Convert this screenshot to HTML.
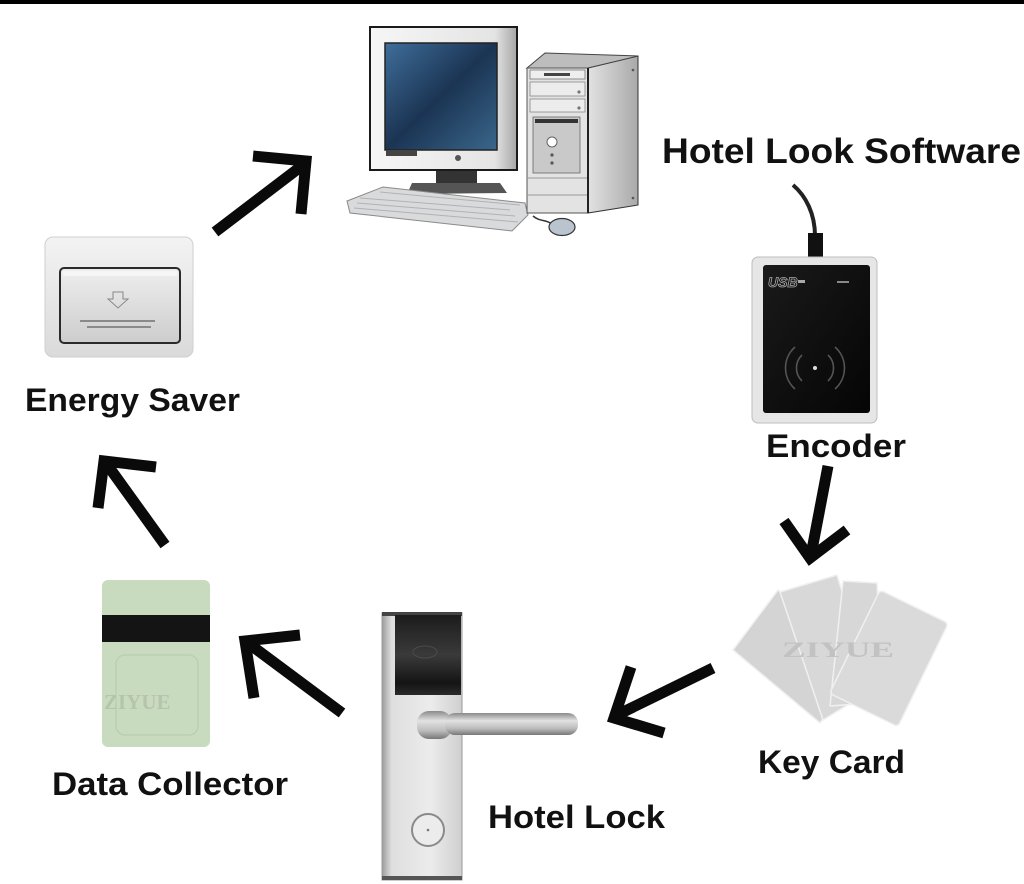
<!DOCTYPE html>
<html>
<head>
<meta charset="utf-8">
<style>
  html,body{margin:0;padding:0;background:#fff;}
  body{width:1024px;height:884px;overflow:hidden;}
  svg{display:block;}
  .lbl{font-family:"Liberation Sans",Arial,sans-serif;font-weight:bold;fill:#111;}
</style>
</head>
<body>
<svg width="1024" height="884" viewBox="0 0 1024 884" xmlns="http://www.w3.org/2000/svg">
  <defs>
    <linearGradient id="scr" x1="0" y1="0" x2="1" y2="1">
      <stop offset="0" stop-color="#3f6e9a"/>
      <stop offset="0.5" stop-color="#1b3453"/>
      <stop offset="1" stop-color="#3a678c"/>
    </linearGradient>
    <linearGradient id="bez" x1="0" y1="0" x2="1" y2="0">
      <stop offset="0" stop-color="#f6f6f6"/>
      <stop offset="0.85" stop-color="#e4e4e4"/>
      <stop offset="1" stop-color="#a6a6a6"/>
    </linearGradient>
    <linearGradient id="side" x1="0" y1="0" x2="1" y2="0">
      <stop offset="0" stop-color="#e2e2e2"/>
      <stop offset="1" stop-color="#a9a9a9"/>
    </linearGradient>
    <linearGradient id="plate" x1="0" y1="0" x2="0" y2="1">
      <stop offset="0" stop-color="#f3f3f3"/>
      <stop offset="1" stop-color="#dadada"/>
    </linearGradient>
    <linearGradient id="btn" x1="0" y1="0" x2="0" y2="1">
      <stop offset="0" stop-color="#eeeeee"/>
      <stop offset="1" stop-color="#cdcdcd"/>
    </linearGradient>
    <linearGradient id="lockg" x1="0" y1="0" x2="1" y2="0">
      <stop offset="0" stop-color="#9c9c9c"/>
      <stop offset="0.12" stop-color="#dedede"/>
      <stop offset="0.6" stop-color="#ececec"/>
      <stop offset="1" stop-color="#cfcfcf"/>
    </linearGradient>
    <linearGradient id="lockd" x1="0" y1="0" x2="0" y2="1">
      <stop offset="0" stop-color="#1c1c1c"/>
      <stop offset="0.5" stop-color="#3a3a3a"/>
      <stop offset="0.85" stop-color="#141414"/>
      <stop offset="1" stop-color="#2a2a2a"/>
    </linearGradient>
    <linearGradient id="bar" x1="0" y1="0" x2="0" y2="1">
      <stop offset="0" stop-color="#8a8a8a"/>
      <stop offset="0.35" stop-color="#e2e2e2"/>
      <stop offset="0.7" stop-color="#bdbdbd"/>
      <stop offset="1" stop-color="#777"/>
    </linearGradient>
    <linearGradient id="enc" x1="0" y1="0" x2="1" y2="1">
      <stop offset="0" stop-color="#1a1a1a"/>
      <stop offset="1" stop-color="#050505"/>
    </linearGradient>
  </defs>

  <!-- top black bar -->
  <rect x="0" y="0" width="1024" height="4" fill="#000"/>

  <!-- ================= COMPUTER ================= -->
  <rect x="436" y="168" width="41" height="18" fill="#333"/>
  <polygon points="412,183 500,183 507,193 407,194" fill="#555"/>
  <rect x="370" y="27" width="147" height="143" fill="url(#bez)" stroke="#1a1a1a" stroke-width="2"/>
  <rect x="385" y="43" width="112" height="107" fill="url(#scr)" stroke="#222" stroke-width="1.5"/>
  <rect x="386" y="150" width="31" height="6" fill="#444"/>
  <circle cx="458" cy="158" r="3" fill="#555"/>
  <polygon points="347,201 383,187 525,203 528,215 512,231 350,213" fill="#d9dadc" stroke="#8a8a8a" stroke-width="1"/>
  <g stroke="#b0b2b5" stroke-width="1">
    <line x1="360" y1="198" x2="510" y2="210"/>
    <line x1="357" y1="203" x2="515" y2="216"/>
    <line x1="354" y1="208" x2="518" y2="222"/>
    <line x1="380" y1="192" x2="520" y2="205"/>
  </g>
  <polygon points="588,68 638,56 638,205 588,213" fill="url(#side)" stroke="#333" stroke-width="1"/>
  <polygon points="527,68 545,53 638,56 588,68" fill="#bdbdbd" stroke="#444" stroke-width="1"/>
  <rect x="527" y="68" width="61" height="145" fill="#e3e3e3" stroke="#555" stroke-width="1"/>
  <rect x="530" y="70" width="55" height="9" fill="#efefef" stroke="#777" stroke-width="0.8"/>
  <rect x="544" y="73" width="26" height="3" fill="#444"/>
  <rect x="530" y="82" width="55" height="14" fill="#ececec" stroke="#888" stroke-width="0.8"/>
  <circle cx="579" cy="92" r="1.6" fill="#777"/>
  <rect x="530" y="99" width="55" height="13" fill="#ececec" stroke="#888" stroke-width="0.8"/>
  <circle cx="579" cy="108" r="1.6" fill="#777"/>
  <rect x="533" y="117" width="47" height="56" fill="#c9c9c9" stroke="#666" stroke-width="0.8"/>
  <rect x="535" y="119" width="43" height="4" fill="#333"/>
  <circle cx="552" cy="142" r="5" fill="#fff" stroke="#666" stroke-width="1"/>
  <circle cx="552" cy="155" r="1.6" fill="#555"/>
  <circle cx="552" cy="163" r="1.6" fill="#555"/>
  <line x1="527" y1="178" x2="588" y2="178" stroke="#999" stroke-width="1"/>
  <line x1="527" y1="195" x2="588" y2="195" stroke="#999" stroke-width="1"/>
  <line x1="588" y1="68" x2="588" y2="213" stroke="#222" stroke-width="2"/>
  <circle cx="633" cy="70" r="1.3" fill="#555"/>
  <circle cx="633" cy="198" r="1.3" fill="#555"/>
  <path d="M533,216 C540,222 545,219 552,224" fill="none" stroke="#333" stroke-width="1.5"/>
  <ellipse cx="562" cy="227" rx="13" ry="8.5" fill="#b9c4cf" stroke="#333" stroke-width="1.2"/>

  <!-- ================= ENCODER ================= -->
  <path d="M793,185 C806,196 815,214 815,236" fill="none" stroke="#222" stroke-width="4"/>
  <rect x="808" y="233" width="15" height="25" fill="#111"/>
  <rect x="752" y="257" width="125" height="166" rx="6" fill="#e6e6e6" stroke="#bdbdbd" stroke-width="1"/>
  <rect x="763" y="265" width="107" height="148" rx="3" fill="url(#enc)"/>
  <text x="768" y="287" font-family="Liberation Sans, sans-serif" font-size="14" font-style="italic" font-weight="bold" fill="#111" stroke="#aaa" stroke-width="0.8">USB</text>
  <rect x="798" y="280" width="7" height="3" fill="#aaa"/>
  <rect x="837" y="281" width="12" height="2" fill="#888"/>
  <g fill="none" stroke="#555" stroke-width="1.6">
    <path d="M802,355 A18,18 0 0,0 802,381"/>
    <path d="M828,355 A18,18 0 0,1 828,381"/>
    <path d="M795,347 A28,28 0 0,0 795,389"/>
    <path d="M835,347 A28,28 0 0,1 835,389"/>
  </g>
  <circle cx="815" cy="368" r="2" fill="#ddd"/>

  <!-- ================= ENERGY SAVER ================= -->
  <rect x="45" y="237" width="148" height="120" rx="8" fill="url(#plate)" stroke="#cfcfcf" stroke-width="1"/>
  <rect x="60" y="268" width="120" height="75" rx="4" fill="url(#btn)" stroke="#2a2a2a" stroke-width="2"/>
  <rect x="63" y="271" width="114" height="5" fill="#f6f6f6"/>
  <polygon points="113,292 123,292 123,299 128,299 118,308 108,299 113,299" fill="none" stroke="#888" stroke-width="1"/>
  <rect x="80" y="320" width="75" height="2" fill="#8a8a8a"/>
  <rect x="87" y="326" width="64" height="2" fill="#8a8a8a"/>

  <!-- ================= DATA COLLECTOR CARD ================= -->
  <rect x="102" y="580" width="108" height="167" rx="6" fill="#c9dbbf"/>
  <rect x="102" y="615" width="108" height="27" fill="#141414"/>
  <rect x="116" y="655" width="82" height="80" rx="9" fill="none" stroke="#b8c9ae" stroke-width="1"/>
  <text x="104" y="709" font-family="Liberation Serif, serif" font-size="21" font-weight="bold" fill="#b6c4ae">ZIYUE</text>

  <!-- ================= HOTEL LOCK ================= -->
  <rect x="382" y="613" width="80" height="267" fill="url(#lockg)" stroke="#9a9a9a" stroke-width="1"/>
  <rect x="382" y="612" width="80" height="4" fill="#444"/>
  <rect x="382" y="876" width="80" height="4" fill="#555"/>
  <rect x="395" y="615" width="66" height="80" fill="url(#lockd)"/>
  <ellipse cx="425" cy="652" rx="12" ry="6" fill="none" stroke="#4a4a4a" stroke-width="1"/>
  <rect x="417" y="711" width="35" height="28" rx="12" fill="url(#bar)"/>
  <rect x="445" y="713" width="133" height="22" rx="10" fill="url(#bar)"/>
  <circle cx="428" cy="830" r="16" fill="#ececec" stroke="#8a8a8a" stroke-width="2"/>
  <circle cx="428" cy="830" r="1.3" fill="#777"/>

  <!-- ================= KEY CARDS ================= -->
  <g stroke="#f0f0f0" stroke-width="1.5" stroke-linejoin="round">
    <polygon points="733,650 778,590 862,662 820,723" fill="#d4d4d4"/>
    <polygon points="780,592 837,575 872,690 823,720" fill="#d8d8d8"/>
    <polygon points="843,581 877,583 884,702 830,706" fill="#d7d7d7"/>
    <rect transform="translate(880,590) rotate(26)" x="0" y="0" width="76" height="115" rx="4" fill="#dadada"/>
  </g>
  <text x="782" y="657" font-family="Liberation Serif, serif" font-size="22" font-weight="bold" fill="#c2c2c2" textLength="112" lengthAdjust="spacingAndGlyphs">ZIYUE</text>

  <!-- ================= ARROWS ================= -->
  <g fill="none" stroke="#0a0a0a" stroke-width="11" stroke-linecap="butt" stroke-linejoin="miter">
    <line x1="215" y1="232" x2="303" y2="165"/>
    <polyline points="253,156 306,161 301,214"/>

    <line x1="828" y1="466" x2="811" y2="555"/>
    <polyline points="784,521 810,558 847,530"/>

    <line x1="713" y1="668" x2="617" y2="715"/>
    <polyline points="631,667 614,718 664,733"/>

    <line x1="342" y1="713" x2="248" y2="643"/>
    <polyline points="300,635 245,641 254,698"/>

    <line x1="165" y1="545" x2="106" y2="463"/>
    <polyline points="156,467 104,461 98,508"/>
  </g>

  <!-- ================= LABELS ================= -->
  <text class="lbl" x="662" y="163" font-size="35" textLength="359" lengthAdjust="spacingAndGlyphs">Hotel Look Software</text>
  <text class="lbl" x="25" y="411" font-size="32" textLength="215" lengthAdjust="spacingAndGlyphs">Energy Saver</text>
  <text class="lbl" x="766" y="457" font-size="32" textLength="140" lengthAdjust="spacingAndGlyphs">Encoder</text>
  <text class="lbl" x="758" y="773" font-size="32" textLength="147" lengthAdjust="spacingAndGlyphs">Key Card</text>
  <text class="lbl" x="488" y="828" font-size="32" textLength="177" lengthAdjust="spacingAndGlyphs">Hotel Lock</text>
  <text class="lbl" x="52" y="795" font-size="32" textLength="236" lengthAdjust="spacingAndGlyphs">Data Collector</text>
</svg>
</body>
</html>
